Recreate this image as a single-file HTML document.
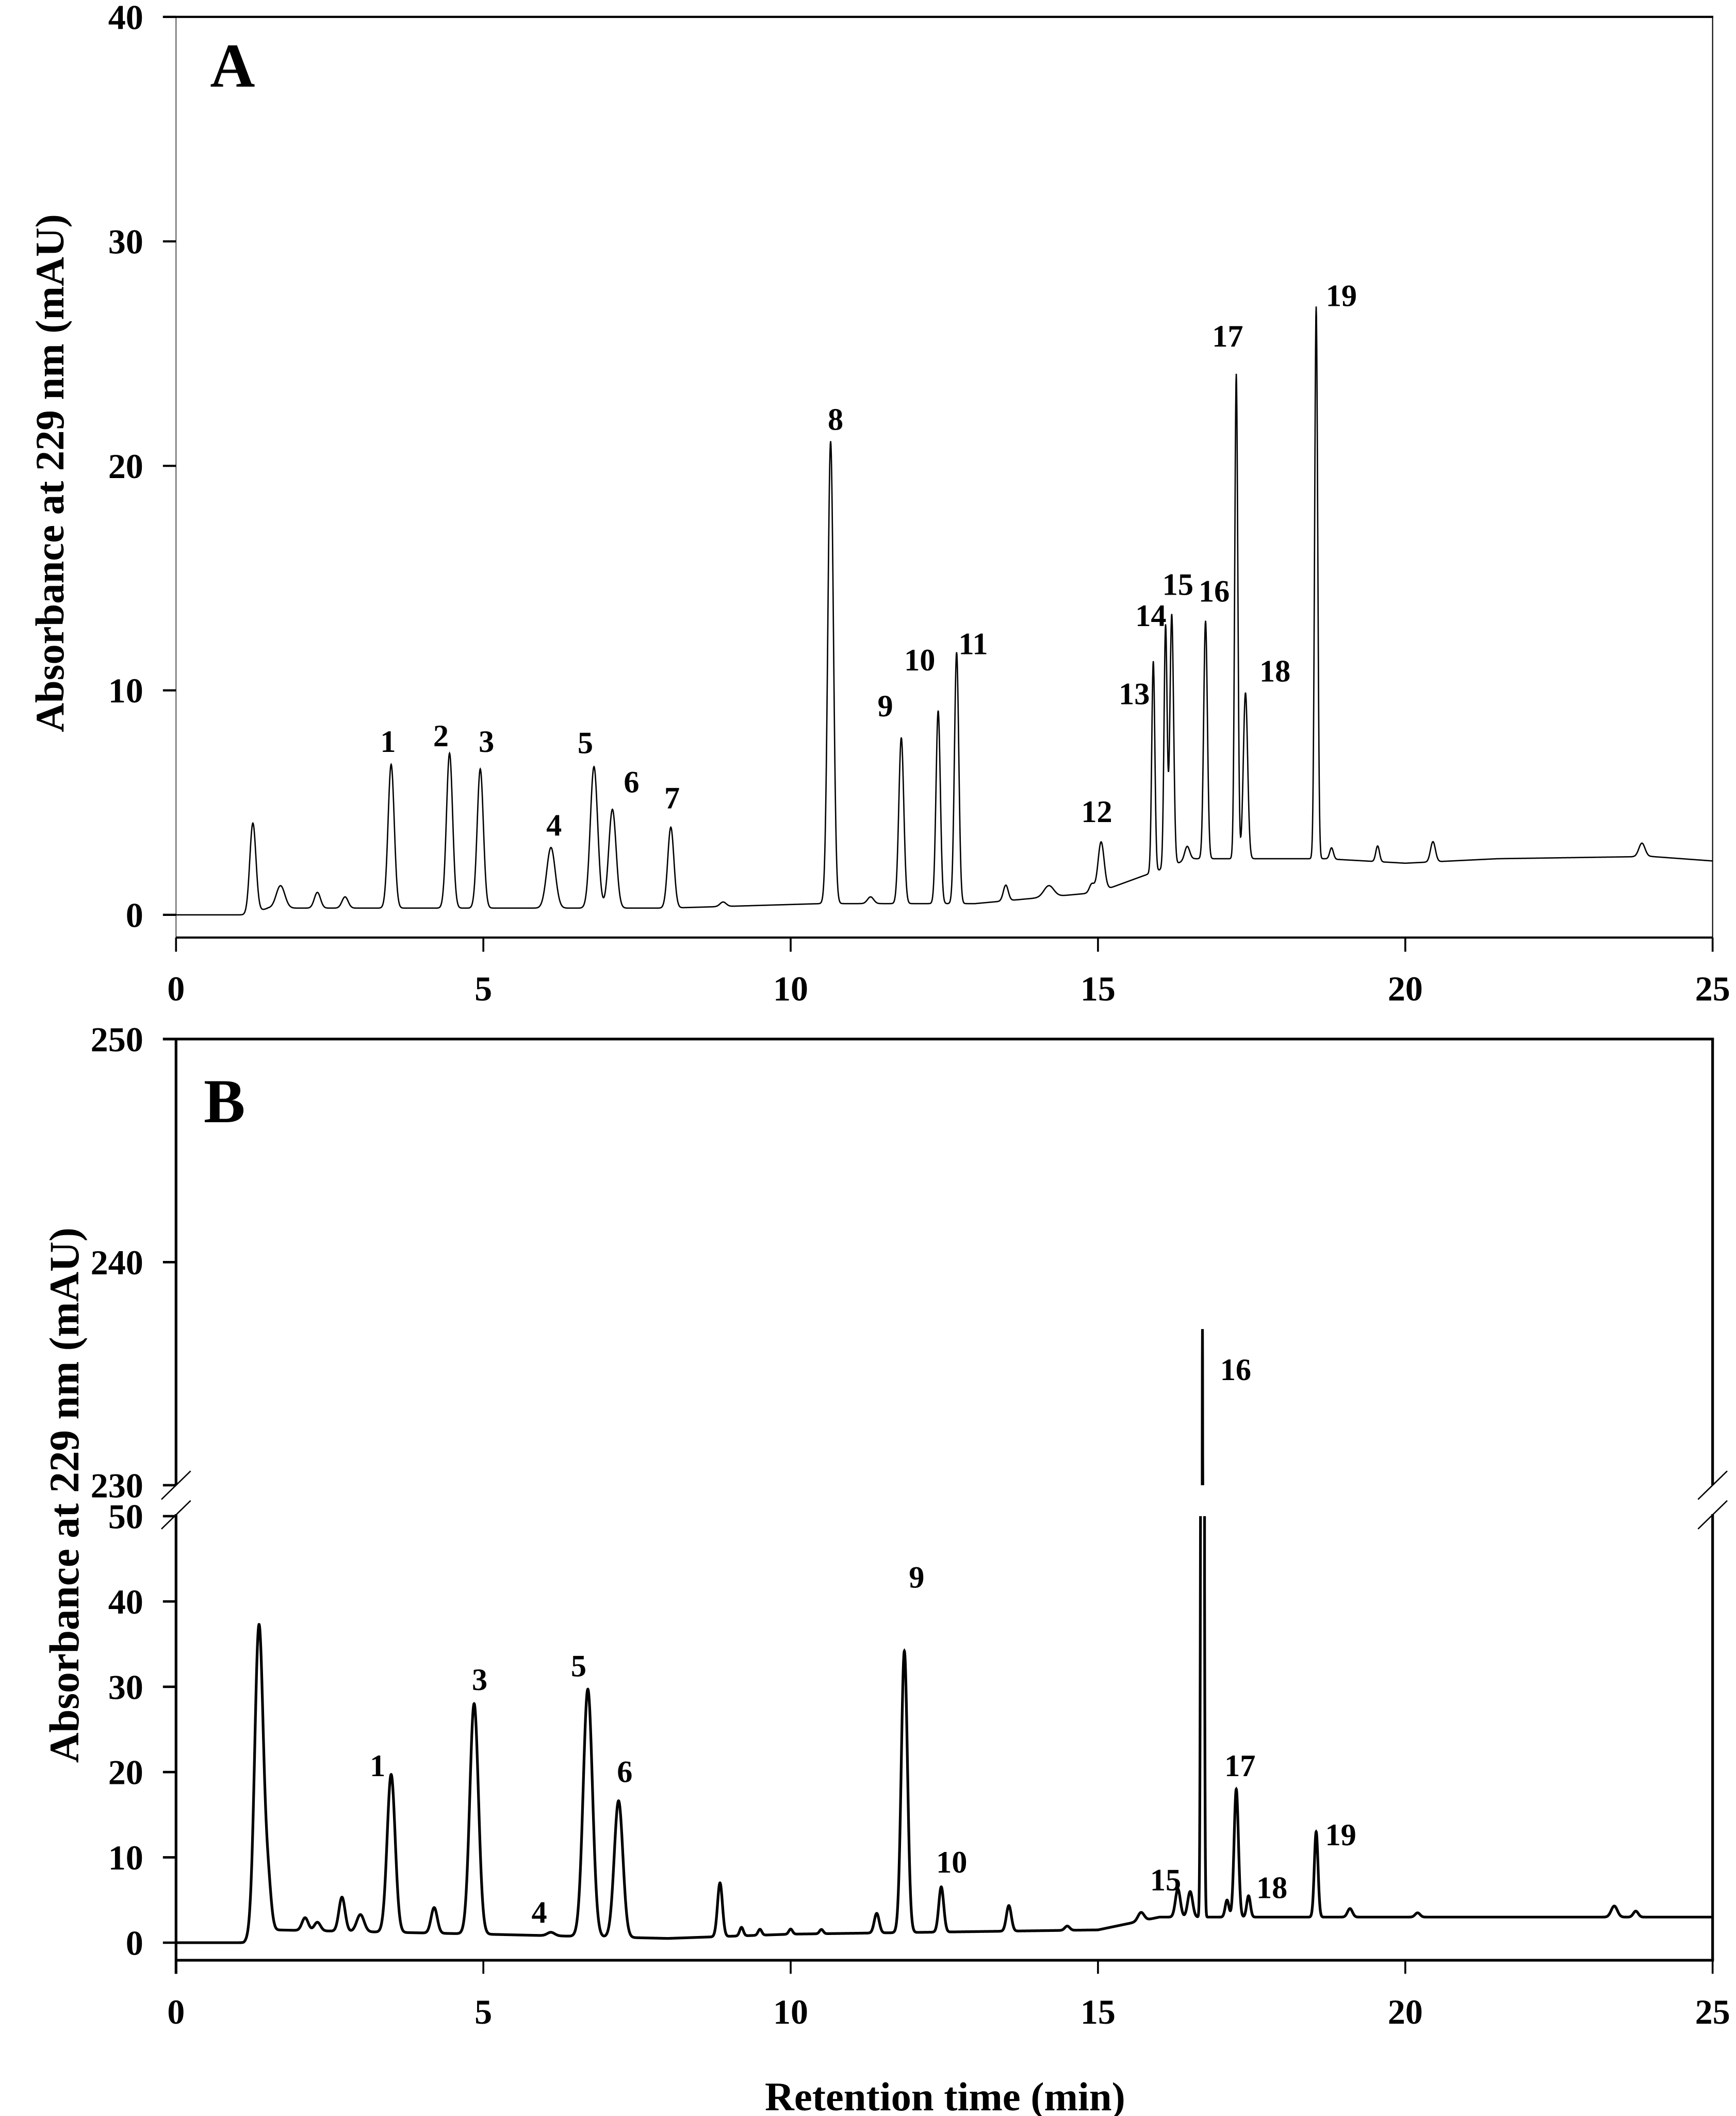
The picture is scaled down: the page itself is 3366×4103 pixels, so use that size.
<!DOCTYPE html>
<html><head><meta charset="utf-8"><style>
html,body{margin:0;padding:0;background:#fff;}
svg{display:block;}
text{font-family:"Liberation Serif",serif;fill:#000;}
</style></head><body>
<svg id="chart" width="3366" height="4103" viewBox="0 0 1284 1565.2" preserveAspectRatio="none" xmlns="http://www.w3.org/2000/svg">
</svg>
<script>
// Panel A data
const peakTimesA=[1.25,1.7,2.3,2.75,3.5,4.45,4.95,6.1,6.8,7.1,8.05,8.9,10.65,11.3,11.8,12.4,12.7,13.5,14.2,14.9,15.05,15.9,16.1,16.2,16.45,16.75,17.25,17.4,18.55,18.8,19.55,20.45,23.85];
const peakHeightsA=[4.0,1.0,0.7,0.5,6.4,6.9,6.2,2.7,6.3,4.4,3.6,0.2,20.6,0.3,7.4,8.6,11.2,0.7,0.5,0.4,2.2,9.4,10.8,11.2,0.6,10.6,21.6,7.4,24.6,0.5,0.7,0.9,0.6];
const peakWidthsA=[0.05,0.07,0.05,0.05,0.05,0.05,0.05,0.07,0.06,0.06,0.05,0.05,0.045,0.05,0.04,0.035,0.035,0.04,0.08,0.04,0.05,0.025,0.025,0.03,0.04,0.03,0.025,0.035,0.025,0.03,0.03,0.04,0.05];
const baseTimesA=[0,1.15,1.5,4,8,10.5,13,15,15.8,16.5,18.7,20,21.5,24,25];
const baseValuesA=[0,0,0.3,0.3,0.3,0.5,0.5,1.0,1.8,2.5,2.5,2.3,2.5,2.6,2.4];
const labelsA=["1","2","3","4","5","6","7","8","9","10","11","12","13","14","15","16","17","18","19"];
const labelTimesA=[3.45,4.31,5.05,6.15,6.66,7.41,8.07,10.73,11.54,12.1,12.97,14.98,15.59,15.86,16.3,16.89,17.11,17.88,18.96];
const labelValuesA=[7.74,7.99,7.74,4.0,7.68,5.94,5.22,22.08,9.32,11.37,12.09,4.62,9.86,13.35,14.74,14.44,25.8,10.88,27.6];
// Panel B data
const peakTimesB=[1.35,1.5,2.1,2.3,2.7,3.0,3.5,4.2,4.85,6.1,6.7,7.2,8.85,9.2,9.5,10.0,10.5,11.4,11.85,12.45,13.55,14.5,15.7,16.3,16.5,16.7,17.1,17.25,17.45,18.55,19.1,20.2,23.4,23.75];
const peakHeightsB=[36.5,5,1.5,1,4,2,18.5,3,27,0.4,29,16,6.3,1,0.7,0.6,0.5,2.3,33,5.3,3,0.5,1,3.3,3,234,2,15,2.5,10,1,0.5,1.3,0.7];
const peakWidthsB=[0.07,0.05,0.05,0.05,0.05,0.06,0.065,0.05,0.07,0.06,0.075,0.07,0.04,0.03,0.03,0.03,0.03,0.04,0.05,0.04,0.04,0.04,0.05,0.04,0.04,0.018,0.03,0.035,0.03,0.03,0.04,0.04,0.05,0.04];
const baseTimesB=[0,1.1,1.6,5,8,10,15,16,20,25];
const baseValuesB=[0,0,1.5,1.0,0.5,1.0,1.5,3.0,3.0,3.0];
const labelsB=["1","3","4","5","6","9","10","15","16","17","18","19"];
const labelTimesB=[3.28,4.94,5.91,6.55,7.3,12.05,12.62,16.1,17.24,17.31,17.83,18.95];
const labelValuesB=[20.8,30.9,3.6,32.5,20.1,42.9,9.5,7.4,235.2,20.8,6.5,12.7];
const xTicks=[0,5,10,15,20,25];
const yTicksA=[0,10,20,30,40];
const yTicksBLow=[0,10,20,30,40,50];
const yTicksBHigh=[230,240,250];

const NS="http://www.w3.org/2000/svg";
const svg=document.getElementById('chart');
const X0=130.2,X1=1266.7;
const xs=t=>X0+(t/25)*(X1-X0);
const yA=v=>676.7-(v/40)*(676.7-12.5);
const yB=v=>{ if(v<=50) return 1437-(v/50)*(1437-1121.5); if(v>=230) return 1098.6-(v-230)*(1098.6-768.6)/20; return NaN; };
function mk(tag,attrs){const e=document.createElementNS(NS,tag);for(const k in attrs)e.setAttribute(k,attrs[k]);svg.appendChild(e);return e;}
function interp(ts,vs,t){for(let i=1;i<ts.length;i++){if(t<=ts[i]){const f=(t-ts[i-1])/(ts[i]-ts[i-1]);return vs[i-1]+f*(vs[i]-vs[i-1]);}}return vs[vs.length-1];}
function signal(t,pt,ph,pw,bt,bv){let s=interp(bt,bv,t);for(let i=0;i<pt.length;i++){const d=(t-pt[i])/pw[i];if(Math.abs(d)<6)s+=ph[i]*Math.exp(-0.5*d*d);}return s;}
function txt(x,y,s,size,weight,anchor){const e=mk('text',{x:x,y:y,'font-size':size,'font-weight':weight||'bold','text-anchor':anchor||'middle'});e.textContent=s;return e;}
let e;

// ---------- Panel A ----------
e=mk('line',{x1:X0,y1:12.5,x2:X0,y2:693.5,stroke:'#000','stroke-width':0.5});

e=mk('line',{x1:120.5,y1:12.5,x2:X1+0.5,y2:12.5,stroke:'#000','stroke-width':1.6});

e=mk('line',{x1:X1,y1:12.5,x2:X1,y2:693.5,stroke:'#000','stroke-width':0.8});

e=mk('line',{x1:X0,y1:693.5,x2:X1,y2:693.5,stroke:'#000','stroke-width':1.6});

xTicks.forEach(t=>{mk('line',{x1:xs(t),y1:693.5,x2:xs(t),y2:704,stroke:'#000','stroke-width':1.4});
 const l=txt(xs(t),740,String(t),26);});
yTicksA.forEach(v=>{mk('line',{x1:120.5,y1:yA(v),x2:X0,y2:yA(v),stroke:'#000','stroke-width':1.6});
 const l=txt(106,yA(v)+9,String(v),26,'bold','end');});
e=txt(172,64,'A',46);
e=txt(0,0,'Absorbance at 229 nm (mAU)',30);e.setAttribute('transform','translate(47,350) rotate(-90)');


let d='';let pen=false;
for(let t=0;t<=25;t+=0.005){const v=signal(t,peakTimesA,peakHeightsA,peakWidthsA,baseTimesA,baseValuesA);d+=(pen?'L':'M')+xs(t).toFixed(2)+' '+yA(v).toFixed(2);pen=true;}
e=mk('path',{d:d,fill:'none',stroke:'#000','stroke-width':1});

labelsA.forEach((s,i)=>{const l=txt(xs(labelTimesA[i]),yA(labelValuesA[i])+8,s,23);});

// ---------- Panel B ----------
e=mk('line',{x1:120.5,y1:768.6,x2:X1+1,y2:768.6,stroke:'#000','stroke-width':2});

e=mk('line',{x1:X1,y1:768.6,x2:X1,y2:1098.6,stroke:'#000','stroke-width':2});

e=mk('line',{x1:X1,y1:1120,x2:X1,y2:1450,stroke:'#000','stroke-width':2});

e=mk('line',{x1:X0,y1:768.6,x2:X0,y2:1098.6,stroke:'#000','stroke-width':2});

e=mk('line',{x1:X0,y1:1120,x2:X0,y2:1460,stroke:'#000','stroke-width':2});

[[X0,1098.6],[X0,1120.5],[X1,1098.6],[X1,1120.5]].forEach(p=>{
 e=mk('line',{x1:p[0]-10.8,y1:p[1]+10.5,x2:p[0]+10.8,y2:p[1]-10.5,stroke:'#000','stroke-width':1});
 });
e=mk('line',{x1:X0,y1:1450,x2:X1+1,y2:1450,stroke:'#000','stroke-width':2});

xTicks.forEach(t=>{mk('line',{x1:xs(t),y1:1450,x2:xs(t),y2:1460,stroke:'#000','stroke-width':1.4});
 const l=txt(xs(t),1497,String(t),26);});
yTicksBLow.concat(yTicksBHigh).forEach(v=>{mk('line',{x1:120.5,y1:yB(v),x2:X0,y2:yB(v),stroke:'#000','stroke-width':1.8});
 const l=txt(106,yB(v)+9,String(v),26,'bold','end');});
e=txt(166,830,'B',46);
e=txt(0,0,'Absorbance at 229 nm (mAU)',31);e.setAttribute('transform','translate(58,1106) rotate(-90)');

e=txt(699,1561,'Retention time (min)',30);

d='';pen=false;
for(let t=0;t<=25;t+=0.002){const v=signal(t,peakTimesB,peakHeightsB,peakWidthsB,baseTimesB,baseValuesB);
 if(v>50&&v<230){ if(pen){d+='L'+xs(t).toFixed(2)+' '+yB(50).toFixed(2);} pen=false; continue;}
 if(!pen && v>=230){d+='M'+xs(t).toFixed(2)+' '+yB(230).toFixed(2);pen=true;}
 else if(!pen && t>0 && v<=50){d+='M'+xs(t).toFixed(2)+' '+yB(50).toFixed(2);pen=true;}
 d+=(pen?'L':'M')+xs(t).toFixed(2)+' '+yB(v).toFixed(2);pen=true;
 if(v>=230){const vn=signal(t+0.002,peakTimesB,peakHeightsB,peakWidthsB,baseTimesB,baseValuesB);if(vn<230){d+='L'+xs(t+0.002).toFixed(2)+' '+yB(230).toFixed(2);pen=false;}}
}
e=mk('path',{d:d,fill:'none',stroke:'#000','stroke-width':2});

labelsB.forEach((s,i)=>{const l=txt(xs(labelTimesB[i]),yB(labelValuesB[i])+8,s,23);});
</script>
</body></html>
